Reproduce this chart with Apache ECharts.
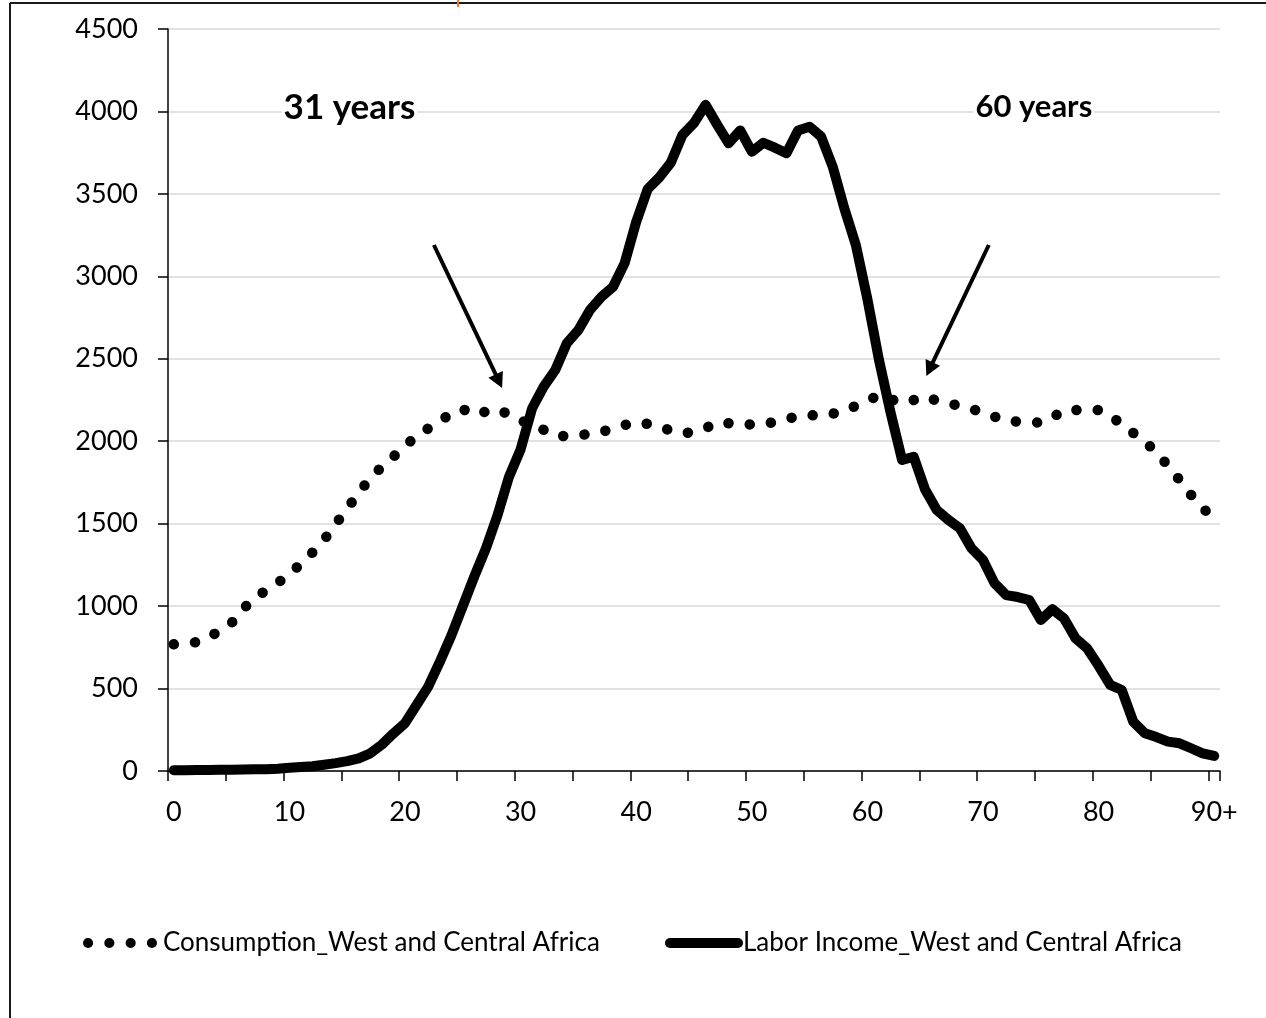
<!DOCTYPE html>
<html>
<head>
<meta charset="utf-8">
<script src="https://cdn.jsdelivr.net/npm/echarts@6/dist/echarts.min.js"></script>
<style>
  html, body { margin: 0; padding: 0; background: #fff; }
  #chart { width: 1266px; height: 1018px; }
</style>
</head>
<body>
<div id="chart"></div>
<script>
// ages 0..90+ (one category per year)
var ages = [];
for (var i = 0; i < 90; i++) ages.push(String(i));
ages.push("90+");

var consumption = [
  768, 772, 782, 811, 850, 898, 984, 1046, 1098, 1141,
  1195, 1257, 1325, 1402, 1497, 1591, 1688, 1775, 1846, 1906,
  1973, 2030, 2077, 2121, 2169, 2195, 2160, 2180, 2195, 2161,
  2126, 2100, 2069, 2032, 2032, 2036, 2044, 2056, 2079, 2098,
  2115, 2105, 2089, 2064, 2047, 2057, 2079, 2114, 2109, 2104,
  2101, 2102, 2118, 2135, 2151, 2158, 2155, 2167, 2183, 2215,
  2247, 2278, 2255, 2232, 2250, 2272, 2246, 2229, 2215, 2196,
  2175, 2149, 2123, 2119, 2115, 2113, 2144, 2189, 2189, 2189,
  2189, 2152, 2106, 2050, 1998, 1933, 1851, 1765, 1674, 1595,
  1530
];

var laborIncome = [
  5, 5, 6, 6, 7, 8, 9, 10, 11, 14,
  20, 24, 29, 38, 48, 60, 77, 107, 160, 228,
  290, 400, 510, 660, 820, 1000, 1180, 1350, 1550, 1785,
  1950, 2200, 2331, 2432, 2594, 2675, 2796, 2876, 2937, 3080,
  3330, 3530, 3600, 3690, 3857, 3930, 4040, 3920, 3807, 3885,
  3756, 3810, 3780, 3746, 3885, 3907, 3847, 3665, 3413, 3190,
  2862, 2493, 2175, 1886, 1906, 1705, 1583, 1523, 1472, 1351,
  1280, 1138, 1067, 1055, 1037, 916, 981, 926, 805, 744,
  638, 522, 491, 299, 229, 206, 178, 168, 138, 107,
  91
];

var seriesNames = ["Consumption_West and Central Africa", "Labor Income_West and Central Africa"];

// annotations: [age, value] anchors
var notes = [
  { text: "31 years", at: [15.2, 4020], size: 35 },
  { text: "60 years", at: [74.4, 4025], size: 31 }
];
var arrows = [
  { from: [22.5, 3190], to: [28.4, 2323] },
  { from: [70.5, 3190], to: [65.1, 2396] }
];

var G = { left: 168, top: 29, right: 46, bottom: 247 };
var W = 1266 - G.left - G.right;
var H = 1018 - G.top - G.bottom;
var yMax = 4500;

function toPx(age, val) {
  return [G.left + (age + 0.5) * (W / ages.length), G.top + (1 - val / yMax) * H];
}

var FONT = "Lato";

var graphics = [
  // outer frame (left + top edge)
  { type: "line", shape: { x1: 10, y1: 3, x2: 10, y2: 1018 }, style: { stroke: "#1a1a1a", lineWidth: 2 } },
  { type: "line", shape: { x1: 10, y1: 3, x2: 1266, y2: 3 }, style: { stroke: "#1a1a1a", lineWidth: 2 } },
  { type: "line", shape: { x1: 458, y1: 0, x2: 458, y2: 7 }, style: { stroke: "#ED7D31", lineWidth: 2 } }
];

notes.forEach(function (n) {
  var p = toPx(n.at[0], n.at[1]);
  graphics.push({
    type: "text", x: p[0], y: p[1], z: 10,
    style: {
      text: n.text, fill: "#000", font: "bold " + n.size + "px " + FONT,
      textAlign: "center", textVerticalAlign: "middle",
      backgroundColor: "#fff", padding: [0, 2]
    }
  });
});

arrows.forEach(function (a) {
  var p0 = toPx(a.from[0], a.from[1]);
  var p1 = toPx(a.to[0], a.to[1]);
  var dx = p1[0] - p0[0], dy = p1[1] - p0[1];
  var len = Math.sqrt(dx * dx + dy * dy);
  var ux = dx / len, uy = dy / len;
  var headLen = 15, headW = 8;
  var bx = p1[0] - ux * headLen, by = p1[1] - uy * headLen;
  graphics.push({
    type: "line", z: 10,
    shape: { x1: p0[0], y1: p0[1], x2: bx + ux * 2, y2: by + uy * 2 },
    style: { stroke: "#000", lineWidth: 4 }
  });
  graphics.push({
    type: "polygon", z: 10,
    shape: { points: [[p1[0], p1[1]], [bx - uy * headW, by + ux * headW], [bx + uy * headW, by - ux * headW]] },
    style: { fill: "#000" }
  });
});

var legendBase = {
  top: 930, padding: 0, itemHeight: 14,
  itemStyle: { opacity: 0, color: "transparent", borderWidth: 0 },
  lineStyle: { width: 10 },
  textStyle: { color: "#000", fontFamily: FONT, fontSize: 26 }
};

var myChart = echarts.init(document.getElementById("chart"));
var option = {
  backgroundColor: "#ffffff",
  animation: false,
  grid: { left: G.left, top: G.top, right: G.right, bottom: G.bottom },
  legend: [
    Object.assign({}, legendBase, { data: [seriesNames[0]], left: 83, itemWidth: 70 }),
    Object.assign({}, legendBase, { data: [seriesNames[1]], left: 665, itemWidth: 68 })
  ],
  xAxis: {
    type: "category",
    data: ages,
    boundaryGap: true,
    axisLine: { lineStyle: { color: "#000", width: 1.5 } },
    axisTick: { show: true, interval: 4, length: 10, lineStyle: { color: "#000", width: 1.5 } },
    axisLabel: { interval: 9, margin: 28, color: "#000", fontFamily: FONT, fontSize: 27 },
    splitLine: { show: false }
  },
  yAxis: {
    type: "value",
    min: 0, max: yMax, interval: 500,
    axisLine: { show: true, lineStyle: { color: "#000", width: 1.5 } },
    axisTick: { show: true, length: 10, lineStyle: { color: "#000", width: 1.5 } },
    axisLabel: {
      margin: 30, color: "#000", fontFamily: FONT, fontSize: 27,
      formatter: function (v) { return String(v); }
    },
    splitLine: { lineStyle: { color: "#d9d9d9", width: 1.5 } }
  },
  series: [
    {
      name: seriesNames[0],
      type: "line",
      data: consumption,
      symbol: "none",
      lineStyle: { color: "#000", width: 10.5, type: [0.1, 21.2], cap: "round", join: "round" },
      itemStyle: { color: "#000" }
    },
    {
      name: seriesNames[1],
      type: "line",
      data: laborIncome,
      symbol: "none",
      lineStyle: { color: "#000", width: 10, cap: "round", join: "round" },
      itemStyle: { color: "#000" }
    }
  ],
  graphic: graphics
};
myChart.setOption(option);
</script>
</body>
</html>
